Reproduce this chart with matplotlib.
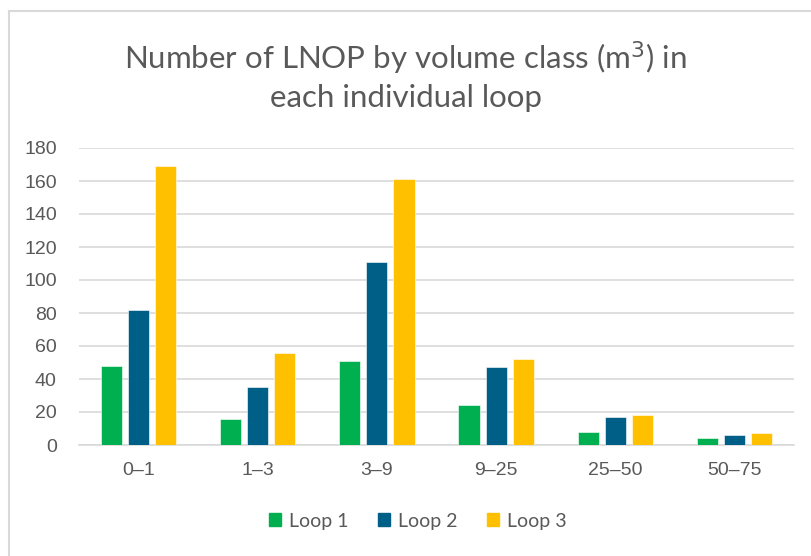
import matplotlib
matplotlib.use("Agg")
import matplotlib.pyplot as plt
import numpy as np
from matplotlib.lines import Line2D

categories = ["0–1", "1–3", "3–9", "9–25", "25–50", "50–75"]
loop1 = [48, 16, 51, 24, 8, 4]
loop2 = [82, 35, 111, 47, 17, 6]
loop3 = [169, 56, 161, 52, 18, 7]
series_names = ["Loop 1", "Loop 2", "Loop 3"]
colors = ["#00B050", "#005F86", "#FFC000"]
yticks = [0, 20, 40, 60, 80, 100, 120, 140, 160, 180]

W, H = 811, 556
fig = plt.figure(figsize=(W / 100, H / 100), dpi=100)
fig.patch.set_facecolor("white")

ax = fig.add_axes([79 / W, 1 - 445 / H, (794 - 79) / W, (445 - 148) / H])
x = np.arange(len(categories))
width = 0.177
step = 0.227
for i, (vals, name, c) in enumerate(zip([loop1, loop2, loop3], series_names, colors)):
    ax.bar(x + (i - 1) * step, vals, width, color=c, label=name, zorder=3,
           edgecolor="white", linewidth=0.4)

ax.set_xlim(-0.5, len(categories) - 0.5)
ax.set_ylim(0, 180)
ax.set_yticks(yticks)
ax.set_xticks(x)
ax.set_xticklabels(categories)
ax.yaxis.grid(True, color="#D9D9D9", linewidth=1.2, zorder=0)
for s in ["top", "right", "left"]:
    ax.spines[s].set_visible(False)
ax.spines["bottom"].set_color("#D9D9D9")
ax.spines["bottom"].set_linewidth(1.2)
ax.tick_params(axis="both", length=0, labelsize=14, labelcolor="#595959")
ax.tick_params(axis="y", pad=16)
ax.tick_params(axis="x", pad=12)
for lab in ax.get_xticklabels() + ax.get_yticklabels():
    lab.set_family(["Liberation Sans", "DejaVu Sans"])

fig.text(0.5, 1 - 76 / H, "Number of LNOP by volume class (m$^3$) in\neach individual loop",
         ha="center", va="center", fontsize=22.5, color="#595959", family="Lato",
         linespacing=1.3)

handles = [plt.Rectangle((0, 0), 1, 1, color=c) for c in colors]
leg = fig.legend(handles, series_names, loc="center", bbox_to_anchor=(0.515, 1 - 521 / H),
                 ncol=3, frameon=False, fontsize=14, handlelength=0.65, handleheight=0.65,
                 handletextpad=0.4, columnspacing=1.5)
for t in leg.get_texts():
    t.set_color("#595959")
    t.set_family("Lato")

# chart frame (left and top edges visible)
fig.add_artist(Line2D([9 / W, 9 / W], [0, 1 - 11 / H], color="#D9D9D9", linewidth=1.5,
                      transform=fig.transFigure))
fig.add_artist(Line2D([9 / W, 1], [1 - 11 / H, 1 - 11 / H], color="#D9D9D9", linewidth=1.5,
                      transform=fig.transFigure))

fig.savefig("out.png", dpi=100, facecolor="white")
